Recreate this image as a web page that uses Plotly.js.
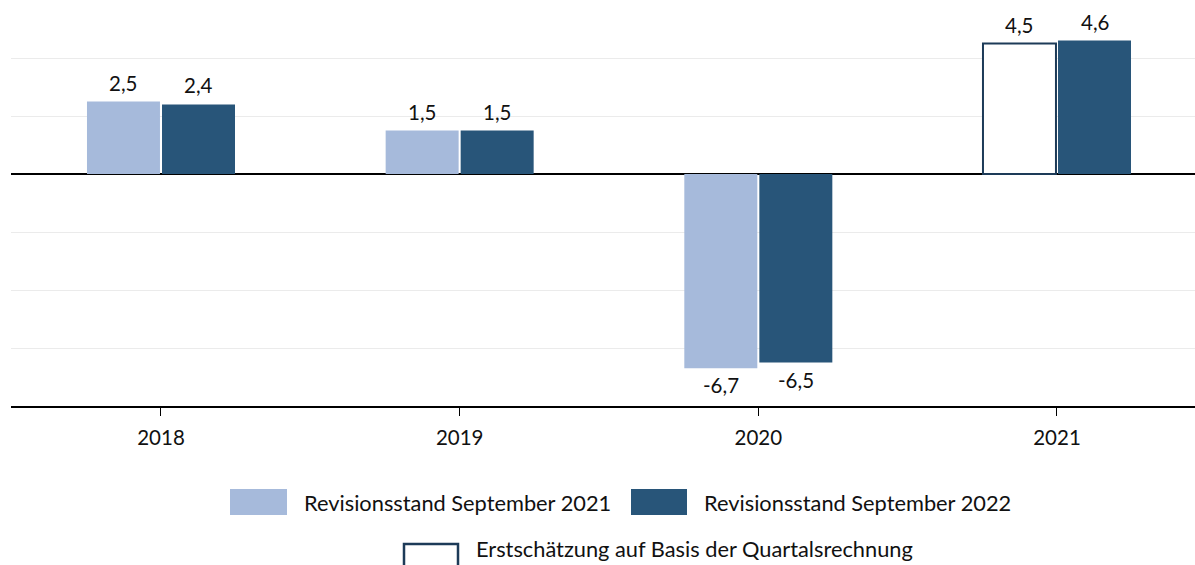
<!DOCTYPE html>
<html>
<head>
<meta charset="utf-8">
<script src="https://cdn.plot.ly/plotly-3.0.1.min.js"></script>
<style>html,body{margin:0;padding:0;background:#fff;}#chart{width:1195px;height:565px;}</style>
</head>
<body>
<div id="chart"></div>
<script>
const years = ['2018', '2019', '2020', '2021'];
const sep2021Years = ['2018', '2019', '2020'];
const sep2021 = [2.5, 1.5, -6.7];
const erstYears = ['2021'];
const erst = [4.5];
const sep2022 = [2.4, 1.5, -6.5, 4.6];
const legendLabels = ['Revisionsstand September 2021', 'Revisionsstand September 2022', 'Erstschätzung auf Basis der Quartalsrechnung'];

const LIGHT = '#A6BADB', DARK = '#285579', OUTLINE = '#1D3B58';
const FONT = 'Lato, "Open Sans", sans-serif';
const FS = 20.5, LFS = 21.8;
const W = 0.2444, OFF_L = -0.2478, OFF_R = 0.0034;

const fmt = v => v.toFixed(1).replace('.', ',');

const traces = [
  {type: 'bar', name: legendLabels[0], x: sep2021Years, y: sep2021, width: W, offset: OFF_L,
   marker: {color: LIGHT, line: {width: 0}}, showlegend: false, hoverinfo: 'x+y'},
  {type: 'bar', name: legendLabels[2], x: erstYears, y: erst, width: W, offset: OFF_L,
   marker: {color: '#ffffff', line: {color: OUTLINE, width: 2}}, showlegend: false, hoverinfo: 'x+y'},
  {type: 'bar', name: legendLabels[1], x: years, y: sep2022, width: W, offset: OFF_R,
   marker: {color: DARK, line: {width: 0}}, showlegend: false, hoverinfo: 'x+y'}
];

const annotations = [];
function addLabels(xs, ys, off) {
  xs.forEach((x, i) => {
    const v = ys[i];
    annotations.push({
      x: years.indexOf(x) + off + W / 2, y: v, xref: 'x', yref: 'y',
      text: fmt(v), showarrow: false,
      yanchor: v >= 0 ? 'bottom' : 'top', yshift: v >= 0 ? 5 : -3,
      font: {family: FONT, size: FS, color: '#111'}
    });
  });
}
addLabels(sep2021Years, sep2021, OFF_L);
addLabels(erstYears, erst, OFF_L);
addLabels(years, sep2022, OFF_R);

const px = p => (p - 11) / 1184;
const py = p => (406 - p) / 406;
const legendFont = {family: FONT, size: LFS, color: '#111'};
annotations.push(
  {xref: 'paper', yref: 'paper', x: px(302), y: py(502), xanchor: 'left', yanchor: 'middle', text: legendLabels[0], showarrow: false, font: legendFont},
  {xref: 'paper', yref: 'paper', x: px(702), y: py(502), xanchor: 'left', yanchor: 'middle', text: legendLabels[1], showarrow: false, font: legendFont},
  {xref: 'paper', yref: 'paper', x: px(474), y: py(564), xanchor: 'left', yanchor: 'bottom', text: legendLabels[2], showarrow: false, font: legendFont}
);
const shapes = [
  {type: 'rect', xref: 'paper', yref: 'paper', x0: px(230), x1: px(287), y0: py(515), y1: py(489), fillcolor: LIGHT, line: {width: 0}},
  {type: 'rect', xref: 'paper', yref: 'paper', x0: px(631), x1: px(687), y0: py(515), y1: py(489), fillcolor: DARK, line: {width: 0}},
  {type: 'rect', xref: 'paper', yref: 'paper', x0: px(404), x1: px(458), y0: py(575), y1: py(544), fillcolor: '#ffffff', line: {color: OUTLINE, width: 2.5}}
];

const layout = {
  width: 1195, height: 565,
  margin: {l: 11, r: 0, t: 0, b: 159},
  paper_bgcolor: '#ffffff', plot_bgcolor: '#ffffff',
  barmode: 'overlay',
  showlegend: false,
  separators: ',.',
  font: {family: FONT, size: FS, color: '#111'},
  xaxis: {type: 'category', categoryorder: 'array', categoryarray: years,
          range: [-0.5022, 3.4621], showline: true, linecolor: '#000', linewidth: 2,
          ticks: 'outside', ticklen: 8, tickcolor: '#000', tickwidth: 1,
          ticklabelstandoff: 4,
          showgrid: false, zeroline: false, fixedrange: true,
          tickfont: {family: FONT, size: FS, color: '#111'}},
  yaxis: {range: [-8, 6], tickvals: [-6, -4, -2, 2, 4], showticklabels: false,
          showgrid: true, gridcolor: '#EBEBEB', gridwidth: 1,
          zeroline: true, zerolinecolor: '#000', zerolinewidth: 1.5,
          showline: false, ticks: '', fixedrange: true},
  annotations: annotations,
  shapes: shapes
};

Plotly.newPlot('chart', traces, layout, {displayModeBar: false, staticPlot: true});
</script>
</body>
</html>
